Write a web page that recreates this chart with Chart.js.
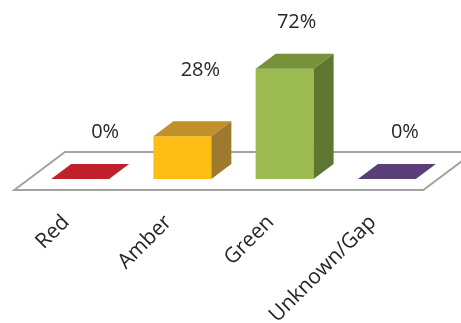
<!DOCTYPE html>
<html>
<head>
<meta charset="utf-8">
<script src="https://cdn.jsdelivr.net/npm/chart.js@4/dist/chart.umd.min.js"></script>
<style>
  html, body { margin: 0; background: #fff; }
</style>
</head>
<body>
<canvas id="chart" width="461" height="323"></canvas>
<script>
const categories = ['Red', 'Amber', 'Green', 'Unknown/Gap'];
const shares = [0, 28, 72, 0];

const frontColors = ['#c0202a', '#fdbe14', '#9bbb50', '#5b3f78'];
const topColors = ['#c0202a', '#c1902c', '#76923b', '#5b3f78'];
const sideColors = ['#9c1a22', '#9d7a2d', '#5f7633', '#48315f'];

// draws the floor, the top/side faces and the value labels on top of the flat bars
const bars3d = {
    id: 'bars3d',
    beforeDatasetsDraw(chart, args, opts) {
        const { ctx, chartArea } = chart;
        const base = chart.scales.y.getPixelForValue(0);
        const slope = opts.dx / -opts.dy;
        const fy = base + opts.floorFront;
        const by = base - opts.floorBack;
        ctx.save();
        ctx.beginPath();
        ctx.moveTo(chartArea.left - opts.floorFront * slope, fy);
        ctx.lineTo(chartArea.right - opts.floorFront * slope, fy);
        ctx.lineTo(chartArea.right + opts.floorBack * slope, by);
        ctx.lineTo(chartArea.left + opts.floorBack * slope, by);
        ctx.closePath();
        ctx.fillStyle = '#ffffff';
        ctx.fill();
        ctx.strokeStyle = '#a3a3a3';
        ctx.lineWidth = 2;
        ctx.stroke();
        ctx.restore();
    },
    afterDatasetsDraw(chart, args, opts) {
        const { ctx } = chart;
        const meta = chart.getDatasetMeta(0);
        const dx = opts.dx, dy = opts.dy;
        ctx.save();
        meta.data.forEach((bar, i) => {
            const l = bar.x - bar.width / 2;
            const r = bar.x + bar.width / 2;
            const t = bar.y;
            const b = bar.base;

            ctx.beginPath();
            ctx.moveTo(l, t);
            ctx.lineTo(r, t);
            ctx.lineTo(r + dx, t + dy);
            ctx.lineTo(l + dx, t + dy);
            ctx.closePath();
            ctx.fillStyle = topColors[i];
            ctx.fill();

            if (b - t > 0.5) {
                ctx.beginPath();
                ctx.moveTo(r, t);
                ctx.lineTo(r + dx, t + dy);
                ctx.lineTo(r + dx, b + dy);
                ctx.lineTo(r, b);
                ctx.closePath();
                ctx.fillStyle = sideColors[i];
                ctx.fill();
            }

            ctx.fillStyle = '#262626';
            ctx.font = '20px "Open Sans"';
            ctx.textAlign = 'center';
            ctx.textBaseline = 'middle';
            const [nx, ny] = opts.labelNudge[i];
            ctx.fillText(shares[i] + '%', bar.x + opts.labelDx + nx, t + dy - opts.labelLift + ny);
        });
        ctx.restore();
    }
};

const ctx = document.getElementById('chart');

const chart = new Chart(ctx, {
    type: 'bar',
    data: {
        labels: categories,
        datasets: [
            {
                label: 'Share',
                data: shares,
                backgroundColor: frontColors,
                borderWidth: 0,
                categoryPercentage: 1,
                barPercentage: 0.567
            }
        ]
    },
    plugins: [bars3d],
    options: {
        responsive: false,
        animation: false,
        devicePixelRatio: 1,
        layout: {
            padding: { left: 29, right: 23, top: 26, bottom: 0 }
        },
        plugins: {
            legend: { display: false },
            tooltip: { enabled: false },
            bars3d: {
                dx: 20,
                dy: -15,
                floorFront: 11,
                floorBack: 27,
                labelDx: 18,
                labelLift: 32,
                labelNudge: [[7, 0], [0, -19], [-6, 0], [0, 0]]
            }
        },
        scales: {
            y: {
                display: false,
                min: 0,
                max: 100
            },
            x: {
                grid: { display: false, drawTicks: false },
                border: { display: false },
                ticks: {
                    minRotation: 45,
                    maxRotation: 45,
                    autoSkip: false,
                    padding: 31,
                    labelOffset: -14,
                    color: '#262626',
                    font: { family: 'Open Sans', size: 21 }
                },
                afterFit(scale) {
                    scale.height = 144;
                }
            }
        }
    }
});
</script>
</body>
</html>
